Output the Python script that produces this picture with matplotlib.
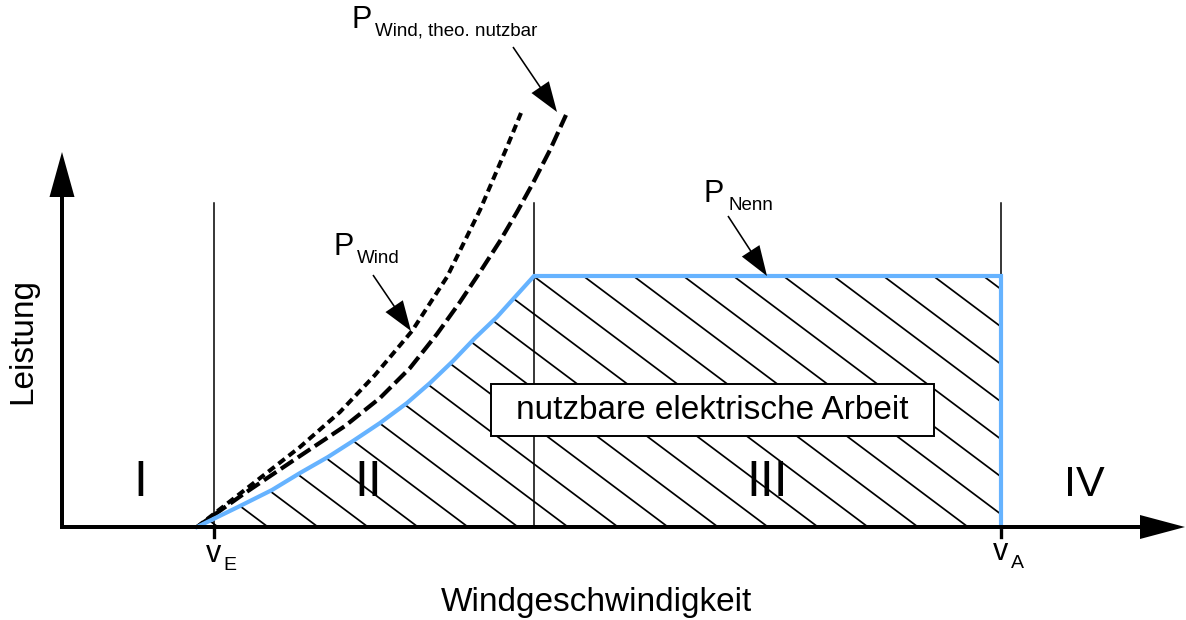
import numpy as np
import matplotlib.pyplot as plt
from matplotlib.patches import Polygon, Rectangle

plt.rcParams['font.family'] = ['Liberation Sans', 'DejaVu Sans']

# schematic units (origin = axis crossing, 1 unit ~ 1 px)
# Wind speeds
v_E = 152          # Einschaltgeschwindigkeit
v_N = 472          # Nenngeschwindigkeit
v_A = 939          # Abschaltgeschwindigkeit
P_nenn = 251

# elektrische Leistung (blue curve up to rated speed)
el_v = [135, 176, 210, 238, 266, 291, 318, 345, 368, 391, 413, 435, 453, 472]
el_P = [0, 20, 37, 54, 70, 86, 104, 124, 144, 166, 189, 210, 230, 251]

# theoretisch nutzbare Windleistung (dashed)
theo_v = [135, 183, 238, 283, 318, 348, 375, 398, 418, 438, 455, 471, 488, 504]
theo_P = [0, 34, 71, 101, 129, 159, 193, 225, 255, 286, 315, 344, 377, 412]

# Windleistung (dotted)
wind_v = [135, 193, 238, 278, 313, 350, 385, 418, 445, 459]
wind_P = [0, 45, 80, 115, 152, 196, 250, 317, 380, 414]

regions = ['I', 'II', 'III', 'IV']
region_x = [78, 306, 705, 1022]

blue = '#66b3ff'

fig = plt.figure(figsize=(11.86, 6.2), dpi=100)
ax = fig.add_axes([0, 0, 1, 1])
ax.set_xlim(-62, 1124)
ax.set_ylim(-93, 527)
ax.axis('off')

# full power curve incl. plateau and cut-out
curve_v = el_v + [v_A, v_A]
curve_P = el_P + [P_nenn, 0]

# hatched area = nutzbare Arbeit
area = Polygon(np.column_stack([curve_v, curve_P]), closed=True,
               facecolor='none', edgecolor='none')
ax.add_patch(area)
for x0 in np.arange(156, 1350, 50):
    ln, = ax.plot([x0, x0 - 600], [0, 450], color='black', lw=1.25, zorder=1)
    ln.set_clip_path(area)

# thin separators between the regions
for v in [v_E, v_N, v_A]:
    ax.plot([v, v], [0, 324], color='black', lw=1.1, zorder=1)
for v in [v_E, v_A]:
    ax.plot([v, v], [0, -10], color='black', lw=2.4, zorder=3)

# curves
ax.plot(wind_v, wind_P, color='black', lw=2.9, ls=(0, (2.0, 1.2)), zorder=2)
ax.plot(theo_v, theo_P, color='black', lw=3.0, ls=(0, (3.6, 1.3)), zorder=2)
ax.plot(curve_v, curve_P, color=blue, lw=3.0, zorder=3, solid_joinstyle='miter')

# axes with arrows
ax.arrow(-2, 0, 1125, 0, width=4, head_width=24, head_length=45,
         length_includes_head=True, color='black', lw=0, zorder=4)
ax.arrow(0, -2, 0, 377, width=4, head_width=25, head_length=45,
         length_includes_head=True, color='black', lw=0, zorder=4)

ax.text(534, -84, 'Windgeschwindigkeit', fontsize=24, ha='center', va='baseline')
ax.text(-31, 186, 'Leistung', fontsize=24, rotation=90, rotation_mode='anchor',
        ha='center', va='baseline')

# label box
ax.add_patch(Rectangle((429, 91), 443, 52, facecolor='white', edgecolor='black',
                       lw=1.4, zorder=5))
ax.text(650, 108, 'nutzbare elektrische Arbeit', fontsize=24, ha='center',
        va='baseline', zorder=6)

for r, x in zip(regions, region_x):
    ax.text(x, 31, r, fontsize=31 if r == 'IV' else 36, ha='center', va='baseline')

# speed labels
ax.text(v_E, -35, 'v', fontsize=22, ha='center', va='baseline')
ax.text(v_E + 9, -43, 'E', fontsize=14, ha='left', va='baseline')
ax.text(v_A, -33, 'v', fontsize=22, ha='center', va='baseline')
ax.text(v_A + 10, -41, 'A', fontsize=14, ha='left', va='baseline')

# power labels with arrows
labels = ['Wind', 'Nenn', 'Wind, theo. nutzbar']
label_pos = [(271, 272), (642, 325), (289, 499)]
arrow_from = [(311, 252), (666, 311), (451, 480)]
arrow_to = [(349, 196), (705, 251), (495, 415)]
for sub, (lx, ly), (x1, y1), (x2, y2) in zip(labels, label_pos, arrow_from, arrow_to):
    ax.text(lx, ly, 'P', fontsize=22, ha='left', va='baseline')
    ax.text(lx + 24, ly - 8, sub, fontsize=13.5, ha='left', va='baseline')
    ax.arrow(x1, y1, x2 - x1, y2 - y1, width=1.6, head_width=21, head_length=30,
             length_includes_head=True, color='black', lw=0, zorder=4)

fig.savefig('out.png', dpi=100)
